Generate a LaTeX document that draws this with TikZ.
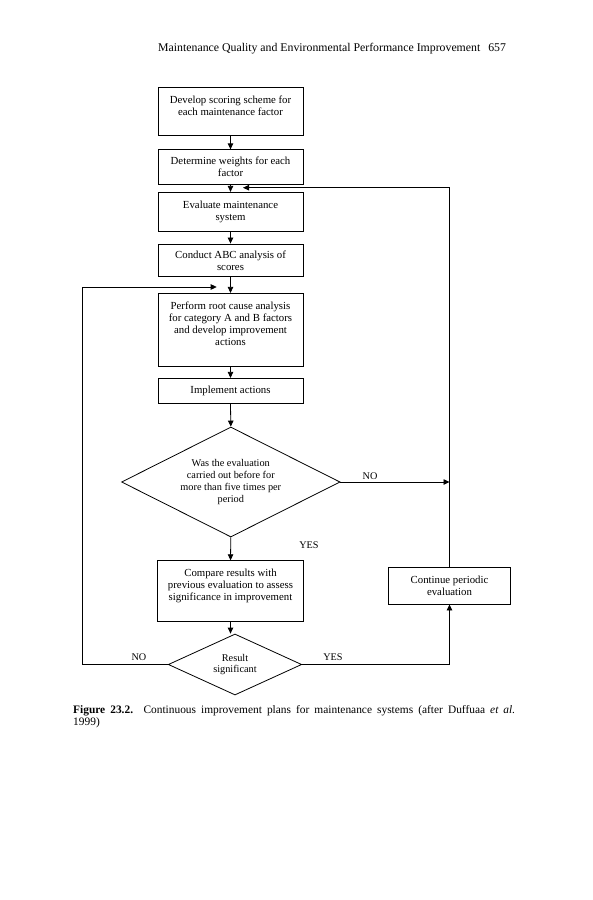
\documentclass[tikz,border=0pt]{standalone}
\usepackage{fontspec}
\setmainfont{Liberation Serif}
\usetikzlibrary{arrows.meta,shapes.geometric}
\begin{document}
\begin{tikzpicture}[x=1pt,y=-1pt,
  flow/.style={line width=0.8pt},
  arr/.style={flow,-{Triangle[length=6pt,width=5.5pt]}},
  stepbox/.style={draw,line width=0.8pt,minimum width=145pt,align=center,inner sep=2pt,
    font=\fontsize{10.8}{12}\selectfont},
  decision/.style={draw,line width=0.8pt,diamond,aspect=2,inner sep=0pt,align=center,
    font=\fontsize{10.3}{11.8}\selectfont},
  lbl/.style={inner sep=0pt,font=\fontsize{10.2}{12}\selectfont}]
\useasboundingbox (0,0) rectangle (593,900);
% header
\node[anchor=base west,inner sep=0pt,font=\fontsize{11.8}{14}\selectfont] (hdr) at (158,51)
  {Maintenance Quality and Environmental Performance Improvement\hspace{8pt}657};
% boxes
\node[stepbox,minimum height=48.5pt] (b1) at (230.5,111.4) {Develop scoring scheme for\\each maintenance factor\\\mbox{}};
\node[stepbox,minimum height=34.5pt] (b2) at (230.5,167) {Determine weights for each\\factor};
\node[stepbox,minimum height=39.5pt] (b3) at (230.5,212) {Evaluate maintenance\\system};
\node[stepbox,minimum height=32.7pt] (b4) at (230.5,260.3) {Conduct ABC analysis of\\scores};
\node[stepbox,minimum height=73.4pt] (b5) at (230.5,330) {Perform root cause analysis\\for category A and B factors\\and develop improvement\\actions\\\mbox{}};
\node[stepbox,minimum height=25pt] (b6) at (230.5,390.8) {Implement actions};
\node[decision,minimum width=218.5pt,minimum height=110pt] (d1) at (230.8,482)
  {Was the evaluation\\carried out before for\\more than five times per\\period};
\node[stepbox,minimum width=146pt,minimum height=61pt] (b7) at (230.5,591.2) {Compare results with\\previous evaluation to assess\\significance in improvement\\\mbox{}};
\node[stepbox,minimum width=122.4pt,minimum height=36.7pt] (b8) at (449.5,585.7) {Continue periodic\\evaluation};
\node[decision,minimum width=133.4pt,minimum height=61pt] (d2) at (235,664.5)
  {Result\\significant};
% labels
\node[lbl] (no1) at (370,476) {NO};
\node[lbl] (yes1) at (309,545) {YES};
\node[lbl] (no2) at (139,657.5) {NO};
\node[lbl] (yes2) at (333,657.5) {YES};
% coordinates
\coordinate (fb1) at (243,187.7);
\coordinate (fb2) at (216.7,287);
\coordinate (lc) at (82,287);
% connectors
\draw[arr] (b1.south) -- (b2.north);
\draw[arr] (b2.south) -- (b3.north);
\draw[arr] (b3.south) -- (b4.north);
\draw[arr] (b4.south) -- (b5.north);
\draw[arr] (b5.south) -- (b6.north);
\draw[arr] (b6.south) -- (d1.north);
\draw[arr] (d1.south) -- (b7.north);
\draw[arr] (b7.south) -- (b7.south |- d2.north);
\draw[arr] (d1.east) -- (d1.east -| b8.north);
\draw[arr] (d2.east) -| (b8.south);
\draw[arr] (b8.north) |- (fb1);
\draw[arr] (d2.west) -| (lc) -- (fb2);
% caption
\node[anchor=north west,inner sep=0pt,text width=442pt,align=justify,
  font=\fontsize{11.4}{12.2}\selectfont] (cap) at (73,705)
  {\textbf{Figure 23.2.} Continuous improvement plans for maintenance systems (after Duffuaa \textit{et al.}\linebreak 1999)};
\end{tikzpicture}
\end{document}
